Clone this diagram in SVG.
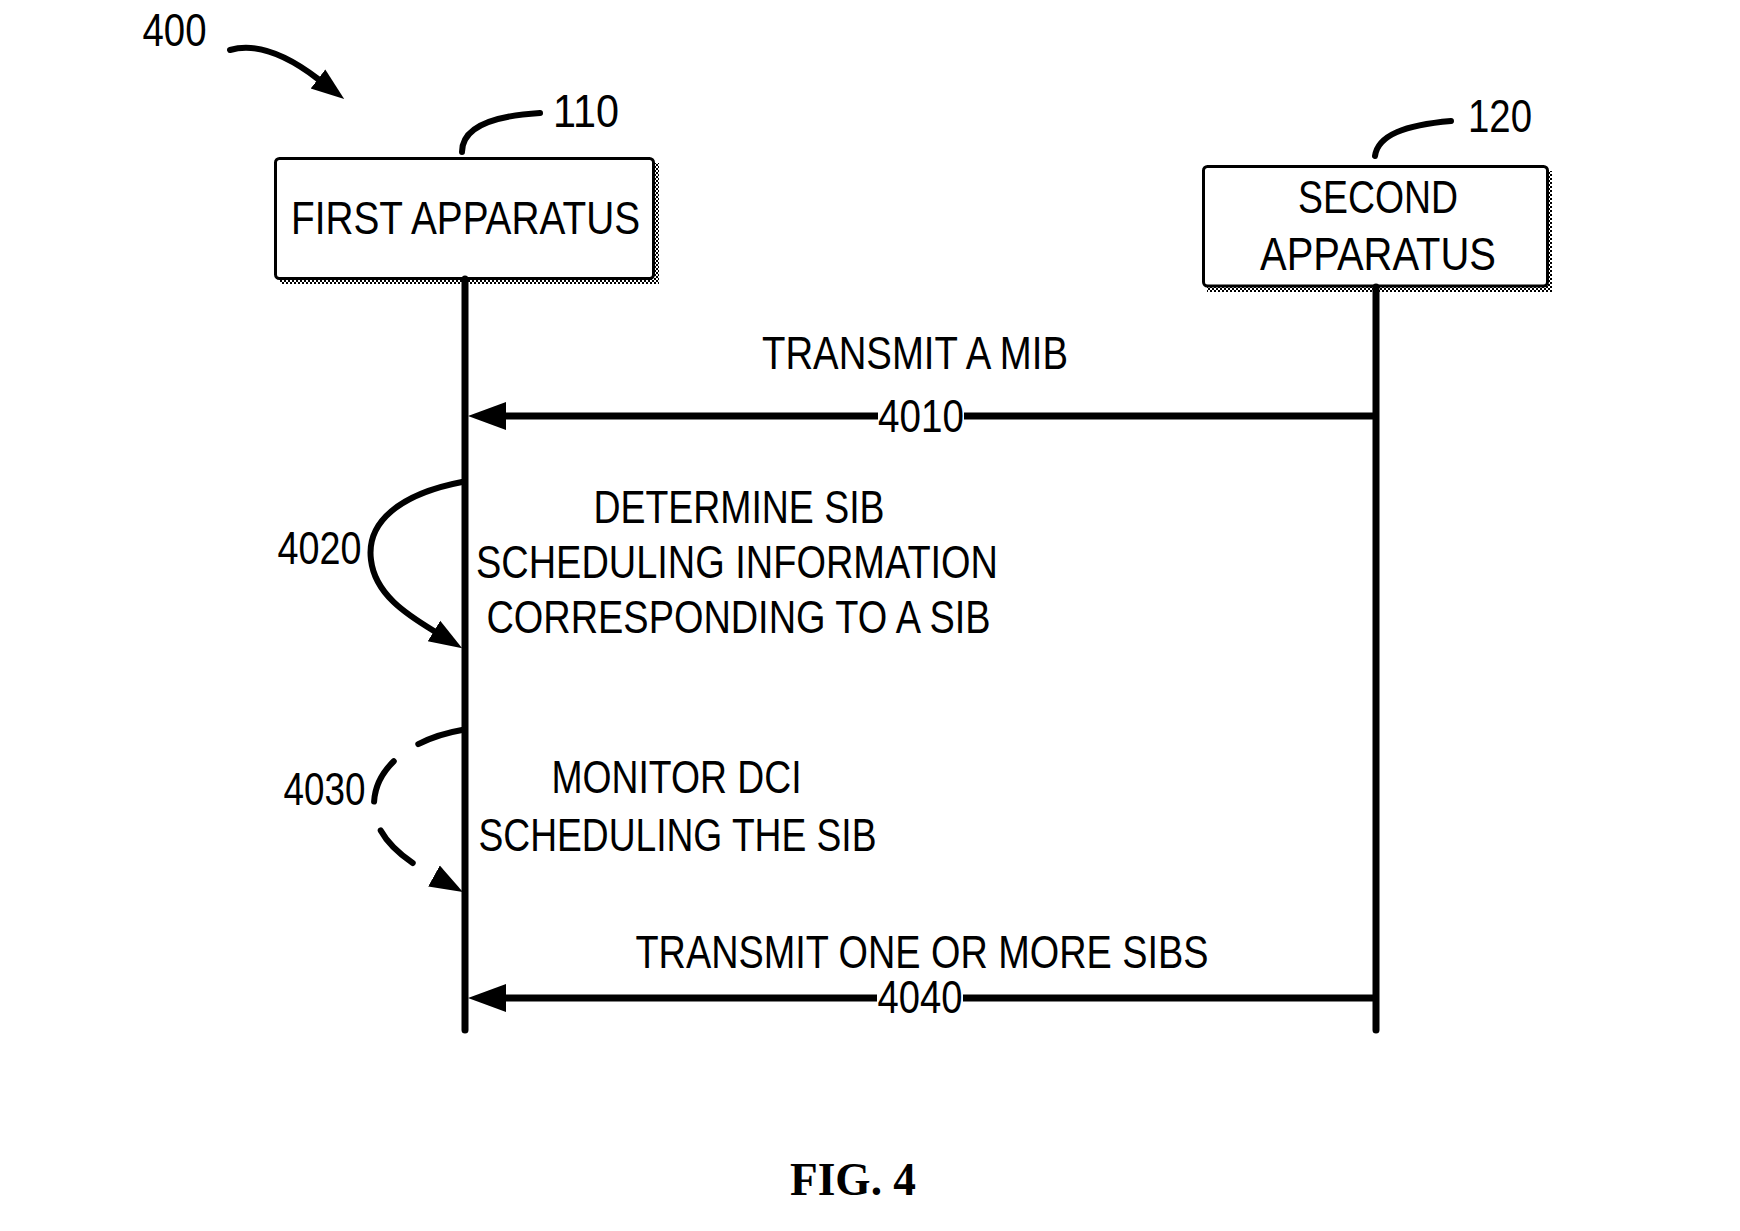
<svg xmlns="http://www.w3.org/2000/svg" width="1740" height="1231" viewBox="0 0 1740 1231">
<style>
.t{font-family:"Liberation Sans",Arial,sans-serif;font-size:46px;fill:#000;text-anchor:middle}
.fig{font-family:"Liberation Serif","Times New Roman",serif;font-size:47px;font-weight:bold;fill:#000;text-anchor:middle}
.box{fill:#fff;stroke:#000;stroke-width:3}
.shadow{fill:url(#dither)}
.life{stroke:#000;stroke-width:7;stroke-linecap:round;fill:none}
.msg{stroke:#000;stroke-width:7;fill:none}
.self{stroke:#000;stroke-width:6;fill:none;stroke-linecap:round}
.lead{stroke:#000;stroke-width:6;fill:none;stroke-linecap:round}
</style>
<defs>
<pattern id="dither" width="4" height="4" patternUnits="userSpaceOnUse">
<rect width="4" height="4" fill="#fff"/>
<rect width="2" height="2" fill="#000"/>
<rect x="2" y="2" width="2" height="2" fill="#000"/>
</pattern>
<marker id="head" viewBox="0 -15 40 30" refX="0" refY="0" markerWidth="40" markerHeight="30" markerUnits="userSpaceOnUse" orient="auto">
<path d="M0,-14 L38,0 L0,14 z" fill="#000"/>
</marker>
<marker id="head2" viewBox="0 -14 36 28" refX="0" refY="0" markerWidth="36" markerHeight="28" markerUnits="userSpaceOnUse" orient="auto">
<path d="M0,-12 L33,0 L0,12 z" fill="#000"/>
</marker>
</defs>

<g id="ref-400">
<text class="t" x="174.5" y="46" textLength="64" lengthAdjust="spacingAndGlyphs">400</text>
<path class="lead" d="M230,50 C258,42 288,56 318,79" stroke-width="7" marker-end="url(#head2)"/>
</g>

<g id="node-110">
<rect class="shadow" x="280" y="163" width="379" height="121"/>
<rect class="box" x="275.5" y="158.5" width="378" height="120" rx="4"/>
<text class="t" x="465.5" y="233.5" textLength="349" lengthAdjust="spacingAndGlyphs">FIRST APPARATUS</text>
<path class="lead" d="M462,152 C462,128 490,116 540,113"/>
<text class="t" x="586" y="127" textLength="66" lengthAdjust="spacingAndGlyphs">110</text>
</g>

<g id="node-120">
<rect class="shadow" x="1207" y="171" width="345" height="121"/>
<rect class="box" x="1203.5" y="166.5" width="344" height="119.5" rx="4"/>
<text class="t" x="1378" y="213" textLength="160" lengthAdjust="spacingAndGlyphs">SECOND</text>
<text class="t" x="1378" y="270" textLength="236" lengthAdjust="spacingAndGlyphs">APPARATUS</text>
<path class="lead" d="M1375,156 C1378,135 1405,125 1451,121"/>
<text class="t" x="1500" y="132" textLength="64" lengthAdjust="spacingAndGlyphs">120</text>
</g>

<g id="connectors">
<path class="life" d="M465,279 V1030"/>
<path class="life" d="M1376,287 V1030"/>
<path class="msg" d="M1376,416 H964 M878,416 H506" marker-end="url(#head)"/>
<path class="msg" d="M1376,998 H963 M877,998 H506" marker-end="url(#head)"/>
<path class="self" d="M462,482 C400,494 366,522 371,560 C375,594 406,614 434,631" marker-end="url(#head2)"/>
<path class="self" d="M462,730 C415,738 374,765 374,805 C374,838 405,860 434,876" stroke-dasharray="46 30" stroke-linecap="round" marker-end="url(#head2)"/>
</g>

<g id="msg-4010">
<text class="t" x="915" y="369" textLength="306" lengthAdjust="spacingAndGlyphs">TRANSMIT A MIB</text>
<text class="t" x="921" y="432" textLength="86" lengthAdjust="spacingAndGlyphs">4010</text>
</g>

<g id="step-4020">
<text class="t" x="739" y="523" textLength="291" lengthAdjust="spacingAndGlyphs">DETERMINE SIB</text>
<text class="t" x="737" y="578" textLength="522" lengthAdjust="spacingAndGlyphs">SCHEDULING INFORMATION</text>
<text class="t" x="738.5" y="633" textLength="504" lengthAdjust="spacingAndGlyphs">CORRESPONDING TO A SIB</text>
<text class="t" x="319.5" y="564" textLength="84" lengthAdjust="spacingAndGlyphs">4020</text>
</g>

<g id="step-4030">
<text class="t" x="676.5" y="793" textLength="250" lengthAdjust="spacingAndGlyphs">MONITOR DCI</text>
<text class="t" x="677.5" y="851" textLength="398" lengthAdjust="spacingAndGlyphs">SCHEDULING THE SIB</text>
<text class="t" x="324.5" y="805" textLength="82" lengthAdjust="spacingAndGlyphs">4030</text>
</g>

<g id="msg-4040">
<text class="t" x="922" y="968" textLength="573" lengthAdjust="spacingAndGlyphs">TRANSMIT ONE OR MORE SIBS</text>
<text class="t" x="920" y="1013" textLength="85" lengthAdjust="spacingAndGlyphs">4040</text>
</g>

<text class="fig" x="853" y="1195" textLength="126" lengthAdjust="spacingAndGlyphs">FIG. 4</text>
</svg>
